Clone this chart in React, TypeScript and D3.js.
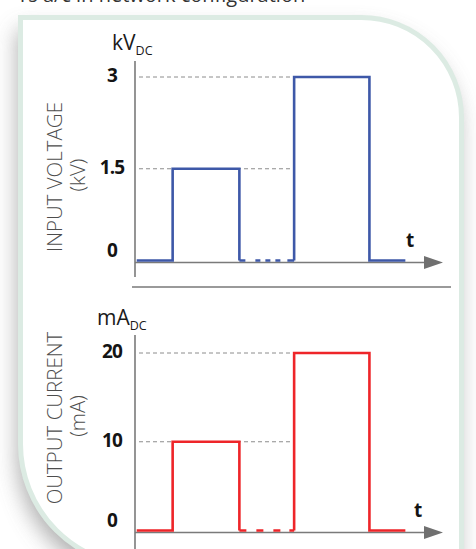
import React from 'react';
import * as d3 from 'd3';

const headerText = 'rs a/c in network configuration';
const timeDomain = [0, 9];
const signalStart = 0.05;
const signalEnd = 7.9;
const pulseRise = [1.1, 4.65];
const pulseFall = [3.05, 6.85];
const voltageLevels = [1.5, 3];
const currentLevels = [10, 20];
const voltageTicks = [0, 1.5, 3];
const currentTicks = [0, 10, 20];
const voltageTickLabels = ['0', '1.5', '3'];
const currentTickLabels = ['0', '10', '20'];

const W = 476;
const H = 549;
const FONT = "'Open Sans', 'Noto Sans', sans-serif";

const x = d3.scaleLinear().domain(timeDomain).range([135, 443]);

type PanelProps = {
  y: d3.ScaleLinear<number, number>;
  levels: number[];
  ticks: number[];
  tickLabels: string[];
  color: string;
  title: string;
  unitParen: string;
  unit: string;
  axisTop: number;
  axisBottom: number;
  unitY: number;
  unitX: number;
  gapDash: string;
  tX: number;
  titleCenter: number;
};

function Panel(p: PanelProps) {
  const line = d3
    .line<[number, number]>()
    .x((d) => x(d[0]))
    .y((d) => p.y(d[1]));
  const seg1: [number, number][] = [
    [signalStart, 0],
    [pulseRise[0], 0],
    [pulseRise[0], p.levels[0]],
    [pulseFall[0], p.levels[0]],
    [pulseFall[0], 0],
  ];
  const seg2: [number, number][] = [
    [pulseRise[1], 0],
    [pulseRise[1], p.levels[1]],
    [pulseFall[1], p.levels[1]],
    [pulseFall[1], 0],
    [signalEnd, 0],
  ];
  const gap: [number, number][] = [
    [pulseFall[0], 0],
    [pulseRise[1], 0],
  ];
  const ax = x(0);
  const y0 = p.y(0) + 2;
  const tip = x(timeDomain[1]);
  return (
    <g>
      {p.ticks
        .filter((t) => t !== 0)
        .map((t) => (
          <line
            key={'g' + t}
            x1={ax + 4}
            x2={x(pulseRise[1]) - 1}
            y1={p.y(t)}
            y2={p.y(t)}
            stroke="#8c8c8c"
            strokeWidth={1}
            strokeDasharray="4,3"
          />
        ))}
      <line x1={ax} x2={ax} y1={p.axisTop} y2={p.axisBottom} stroke="#7a7a7a" strokeWidth={1.6} />
      <line x1={ax} x2={tip - 17} y1={y0} y2={y0} stroke="#7a7a7a" strokeWidth={1.6} />
      <path d={`M${tip - 19},${y0 - 6.5}L${tip},${y0}L${tip - 19},${y0 + 6.5}Z`} fill="#707070" />
      <path d={line(seg1) || ''} fill="none" stroke={p.color} strokeWidth={2.6} strokeLinejoin="miter" />
      <path d={line(seg2) || ''} fill="none" stroke={p.color} strokeWidth={2.6} strokeLinejoin="miter" />
      <path d={line(gap) || ''} fill="none" stroke={p.color} strokeWidth={2.6} strokeDasharray={p.gapDash} />
      {p.ticks.map((t, i) => (
        <text
          key={'t' + t}
          x={ax - 23}
          y={p.y(t) + (t === 0 ? -4 : 5)}
          textAnchor="middle"
          fontFamily={FONT}
          fontWeight={700}
          fontSize={19}
          letterSpacing={-0.8}
          fill="#141414"
        >
          {p.tickLabels[i]}
        </text>
      ))}
      <text x={p.unitX} y={p.unitY} fontFamily={FONT} fontSize={21} fill="#1a1a1a">
        {p.unit}
        <tspan fontSize={12.5} dy={5}>
          DC
        </tspan>
      </text>
      <text x={p.tX} y={y0 - 16} fontFamily={FONT} fontWeight={700} fontSize={19} fill="#141414">
        t
      </text>
      <text
        transform={`translate(62,${p.titleCenter}) rotate(-90)`}
        textAnchor="middle"
        fontFamily={FONT}
        fontWeight={300}
        fontSize={20.5}
        fill="#4d4d4d"
      >
        {p.title}
      </text>
      <text
        transform={`translate(85,${p.titleCenter - 2}) rotate(-90)`}
        textAnchor="middle"
        fontFamily={FONT}
        fontWeight={300}
        fontSize={20.5}
        fill="#4d4d4d"
      >
        {p.unitParen}
      </text>
    </g>
  );
}

export default function App() {
  const yV = d3.scaleLinear().domain([0, 3]).range([260.5, 77]);
  const yI = d3.scaleLinear().domain([0, 20]).range([530.5, 353]);

  const L = 20.5,
    T = 17.5,
    R = 461.5,
    B = 566,
    rTR = 100,
    rBL = 122;
  const cardPath = `M${L},${T}H${R - rTR}A${rTR},${rTR} 0 0 1 ${R},${T + rTR}V${B}H${L + rBL}A${rBL},${rBL} 0 0 1 ${L},${B - rBL}Z`;

  return (
    <div style={{ position: 'absolute', left: 0, top: 0 }}>
      <svg width={W} height={H} viewBox={`0 0 ${W} ${H}`} style={{ display: 'block' }}>
        <defs>
          <filter id="sh" x="-30%" y="-30%" width="160%" height="160%">
            <feGaussianBlur stdDeviation={11} />
          </filter>
        </defs>
        <rect x={0} y={0} width={W} height={H} fill="#fff" />
        <path d={cardPath} fill="#9a9a9a" opacity={0.8} filter="url(#sh)" transform="translate(-3,12)" />
        <text x={20} y={2} fontFamily={FONT} fontSize={20} fill="#333">
          {headerText}
        </text>
        <path d={cardPath} fill="#ffffff" stroke="#dcebe3" strokeWidth={5} />
        <line x1={132} x2={451} y1={287} y2={287} stroke="#9a9a9a" strokeWidth={2} />
        <Panel
          y={yV}
          levels={voltageLevels}
          ticks={voltageTicks}
          tickLabels={voltageTickLabels}
          color="#3e58a8"
          title="INPUT VOLTAGE"
          unitParen="(kV)"
          unit="kV"
          axisTop={61}
          axisBottom={277}
          unitY={50}
          unitX={112}
          gapDash="6,10,5,5,5,5,5,7,10"
          tX={406}
          titleCenter={177}
        />
        <Panel
          y={yI}
          levels={currentLevels}
          ticks={currentTicks}
          tickLabels={currentTickLabels}
          color="#ee2529"
          title="OUTPUT CURRENT"
          unitParen="(mA)"
          unit="mA"
          axisTop={335}
          axisBottom={560}
          unitY={325}
          unitX={97}
          gapDash="7,10,7,10,7,9,10"
          tX={414}
          titleCenter={418}
        />
      </svg>
    </div>
  );
}
